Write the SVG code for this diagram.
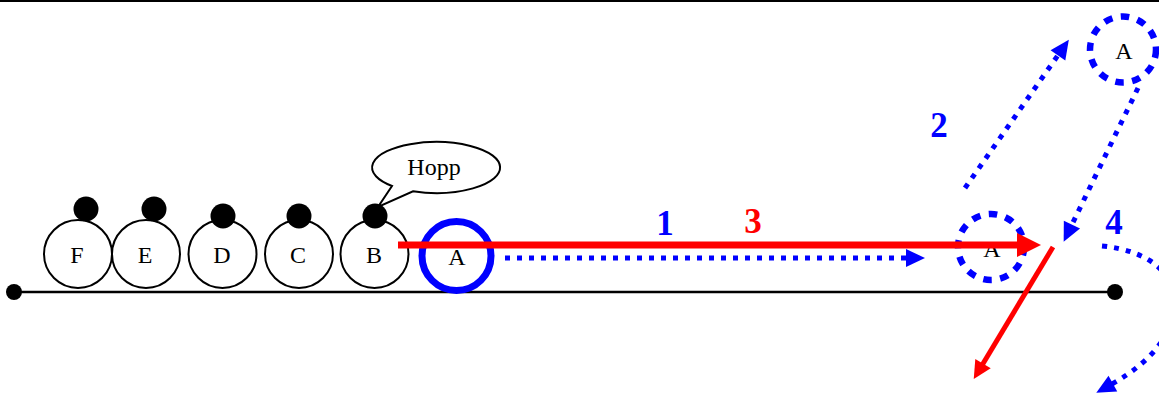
<svg xmlns="http://www.w3.org/2000/svg" width="1159" height="394" viewBox="0 0 1159 394">
<style>
.node{fill:#fff;stroke:#000;stroke-width:2}
.head{fill:#000}
.lbl{font-family:"Liberation Serif","Times New Roman",serif;font-size:24px;fill:#000;text-anchor:middle}
.num{font-family:"Liberation Serif","Times New Roman",serif;font-size:35px;font-weight:bold;text-anchor:middle}
.dot{fill:none;stroke:#0000FF;stroke-width:5;stroke-dasharray:5 7}
.dashc{fill:none;stroke:#0000FF;stroke-width:6.5;stroke-dasharray:8.5 8.5}
.red{fill:none;stroke:#FF0000}
</style>
<defs>
<marker id="bh" markerUnits="userSpaceOnUse" markerWidth="20" markerHeight="20" refX="1" refY="9" orient="auto" overflow="visible">
<path d="M0,0 L19,9 L0,18 z" fill="#0000FF"/>
</marker>
<marker id="rh" markerUnits="userSpaceOnUse" markerWidth="26" markerHeight="26" refX="2" refY="12" orient="auto" overflow="visible">
<path d="M0,0 L24,12 L0,24 z" fill="#FF0000"/>
</marker>
<marker id="rh2" markerUnits="userSpaceOnUse" markerWidth="20" markerHeight="20" refX="1" refY="9" orient="auto" overflow="visible">
<path d="M0,0 L18,9 L0,18 z" fill="#FF0000"/>
</marker>
</defs>
<rect width="1159" height="394" fill="#fff"/>
<line x1="0" y1="1" x2="1159" y2="1" stroke="#000" stroke-width="2"/>
<g id="track">
<line x1="14" y1="292" x2="1115" y2="292" stroke="#000" stroke-width="2.5"/>
<circle cx="14" cy="292" r="8" fill="#000"/>
<circle cx="1115" cy="292" r="8" fill="#000"/>
</g>
<g id="node-F"><circle class="node" cx="78" cy="254" r="34"/><circle class="head" cx="86" cy="209" r="12.5"/><text class="lbl" x="77" y="263">F</text></g>
<g id="node-E"><circle class="node" cx="146" cy="254" r="34"/><circle class="head" cx="154" cy="209" r="12.5"/><text class="lbl" x="145" y="263">E</text></g>
<g id="node-D"><circle class="node" cx="222.5" cy="254" r="34"/><circle class="head" cx="223" cy="216" r="12.5"/><text class="lbl" x="222" y="263">D</text></g>
<g id="node-C"><circle class="node" cx="299" cy="254" r="34"/><circle class="head" cx="299" cy="216" r="12.5"/><text class="lbl" x="298" y="263">C</text></g>
<g id="node-B"><circle class="node" cx="374.5" cy="254" r="34"/><circle class="head" cx="375" cy="216" r="12.5"/><text class="lbl" x="374" y="263">B</text></g>
<g id="bubble">
<path d="M392,186 L378,207 L413,191.3 A64,25.5 0 1 0 392,186 Z" fill="#fff" stroke="#000" stroke-width="2" stroke-linejoin="miter"/>
<text class="lbl" x="434" y="175">Hopp</text>
</g>
<g id="node-A">
<circle cx="456.5" cy="256" r="34.5" fill="none" stroke="#0000FF" stroke-width="7"/>
<text class="lbl" x="457" y="265">A</text>
</g>
<g id="node-A2">
<circle class="dashc" cx="991" cy="247" r="33"/>
<text class="lbl" x="992" y="257">A</text>
</g>
<g id="node-A3">
<circle class="dashc" cx="1123" cy="49.5" r="33"/>
<text class="lbl" x="1124" y="59">A</text>
</g>
<g id="connectors">
<line class="dot" x1="505" y1="258" x2="907" y2="258" marker-end="url(#bh)"/>
<line class="dot" x1="965" y1="188" x2="1058.5" y2="54.5" marker-end="url(#bh)"/>
<line class="dot" x1="1138" y1="88" x2="1071.5" y2="225.5" marker-end="url(#bh)"/>
<path class="dot" d="M1102,246 C1195,255 1200,335 1112,384" stroke-width="6" stroke-dasharray="7 8" marker-end="url(#bh)"/>
<line class="red" x1="398" y1="245" x2="1019" y2="245" stroke-width="7" marker-end="url(#rh)"/>
<line class="red" x1="1053" y1="247" x2="982.5" y2="364.5" stroke-width="5" marker-end="url(#rh2)"/>
</g>
<g id="labels">
<text class="num" x="665" y="235" fill="#0000FF">1</text>
<text class="num" x="939" y="137" fill="#0000FF">2</text>
<text class="num" x="753" y="233" fill="#FF0000">3</text>
<text class="num" x="1114" y="234" fill="#0000FF">4</text>
</g>
</svg>
